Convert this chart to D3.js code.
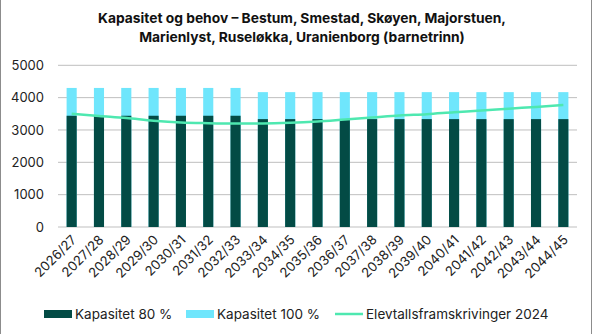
<!DOCTYPE html>
<html><head><meta charset="utf-8">
<script src="https://cdn.jsdelivr.net/npm/d3@7"></script>
<style>
html,body{margin:0;padding:0;background:#fff;}
svg{display:block;font-family:Inter, "Noto Sans", sans-serif;}
</style></head>
<body>
<svg id="chart" width="594" height="334"></svg>
<script>
const categories = ["2026/27","2027/28","2028/29","2029/30","2030/31","2031/32","2032/33","2033/34","2034/35","2035/36","2036/37","2037/38","2038/39","2039/40","2040/41","2041/42","2042/43","2043/44","2044/45"];
const kapasitet80 = [3440,3440,3440,3440,3440,3440,3440,3336,3336,3336,3336,3336,3336,3336,3336,3336,3336,3336,3336];
const kapasitet100 = [4300,4300,4300,4300,4300,4300,4300,4170,4170,4170,4170,4170,4170,4170,4170,4170,4170,4170,4170];
const elevtall = [3505,3435,3370,3285,3230,3210,3200,3200,3220,3262,3324,3386,3450,3490,3549,3600,3660,3713,3775];
const yTicks = [0,1000,2000,3000,4000,5000];
const titleLines = ["Kapasitet og behov – Bestum, Smestad, Skøyen, Majorstuen,","Marienlyst, Ruseløkka, Uranienborg (barnetrinn)"];
const legendLabels = ["Kapasitet 80 %","Kapasitet 100 %","Elevtallsframskrivinger 2024"];

(function(){
const colDark = "#034B45", colLight = "#6FE6FC", colLine = "#4EE8B0";
const svg = d3.select("#chart");
const pLeft = 58, pRight = 577, pTop = 65.3, pBottom = 227;

// border
svg.append("rect").attr("x",0.5).attr("y",-2).attr("width",591).attr("height",340)
  .attr("fill","none").attr("stroke","#8c8c8c").attr("stroke-width",1);

// title
svg.append("g").selectAll("text").data(titleLines).join("text")
  .attr("x",302).attr("y",(d,i)=>23+i*19)
  .attr("text-anchor","middle").attr("font-size",13.8).attr("font-weight",700)
  .attr("fill","#111").text(d=>d);

const x = d3.scaleBand().domain(categories).range([pLeft,pRight]).paddingInner(0.63).paddingOuter(0.315);
const y = d3.scaleLinear().domain([0,5000]).range([pBottom,pTop]);

// grid
svg.append("g").selectAll("line").data(yTicks).join("line")
  .attr("x1",pLeft).attr("x2",pRight).attr("y1",d=>y(d)).attr("y2",d=>y(d))
  .attr("stroke","#bfbfbf").attr("stroke-width",1);

// y axis labels
const yAxis = d3.axisLeft(y).tickValues(yTicks).tickSize(0).tickPadding(0).tickFormat(d3.format("d"));
const ya = svg.append("g").attr("transform",`translate(${44},0)`).call(yAxis);
ya.select(".domain").remove();
ya.selectAll("text").attr("font-size",13).attr("fill","#222").attr("font-family","Inter, 'Noto Sans', sans-serif");

// bars
svg.append("g").selectAll("rect").data(categories).join("rect")
  .attr("x",d=>x(d)).attr("width",x.bandwidth())
  .attr("y",(d,i)=>y(kapasitet100[i])).attr("height",(d,i)=>y(0)-y(kapasitet100[i]))
  .attr("fill",colLight);
svg.append("g").selectAll("rect").data(categories).join("rect")
  .attr("x",d=>x(d)).attr("width",x.bandwidth())
  .attr("y",(d,i)=>y(kapasitet80[i])).attr("height",(d,i)=>y(0)-y(kapasitet80[i]))
  .attr("fill",colDark);

// line
const line = d3.line().x((d,i)=>x(categories[i])+x.bandwidth()/2).y(d=>y(d)).curve(d3.curveMonotoneX);
svg.append("path").datum(elevtall).attr("d",line).attr("fill","none")
  .attr("stroke",colLine).attr("stroke-width",2.5);

// x axis labels
const xAxis = d3.axisBottom(x).tickSize(0).tickPadding(0);
const xa = svg.append("g").attr("transform",`translate(0,${pBottom+6})`).call(xAxis);
xa.select(".domain").remove();
xa.selectAll("text").attr("font-size",13.2).attr("fill","#222")
  .attr("font-family","Inter, 'Noto Sans', sans-serif")
  .attr("text-anchor","end").attr("dy","0.6em")
  .attr("transform","translate(0,2) rotate(-45)");

// legend
const lg = svg.append("g");
const items = [
  {x:44, type:"rect", color:colDark, label:legendLabels[0]},
  {x:186, type:"rect", color:colLight, label:legendLabels[1]},
  {x:335, type:"line", color:colLine, label:legendLabels[2]}
];
const ly = 314;
items.forEach(it=>{
  if(it.type==="rect"){
    lg.append("rect").attr("x",it.x).attr("y",ly-4).attr("width",28).attr("height",8).attr("fill",it.color);
  } else {
    lg.append("line").attr("x1",it.x).attr("x2",it.x+28).attr("y1",ly).attr("y2",ly).attr("stroke",it.color).attr("stroke-width",2.5);
  }
  lg.append("text").attr("x",it.x+31).attr("y",ly).attr("dy","0.35em")
    .attr("font-size",13.5).attr("fill","#222").text(it.label);
});
})();
</script>
</body></html>
